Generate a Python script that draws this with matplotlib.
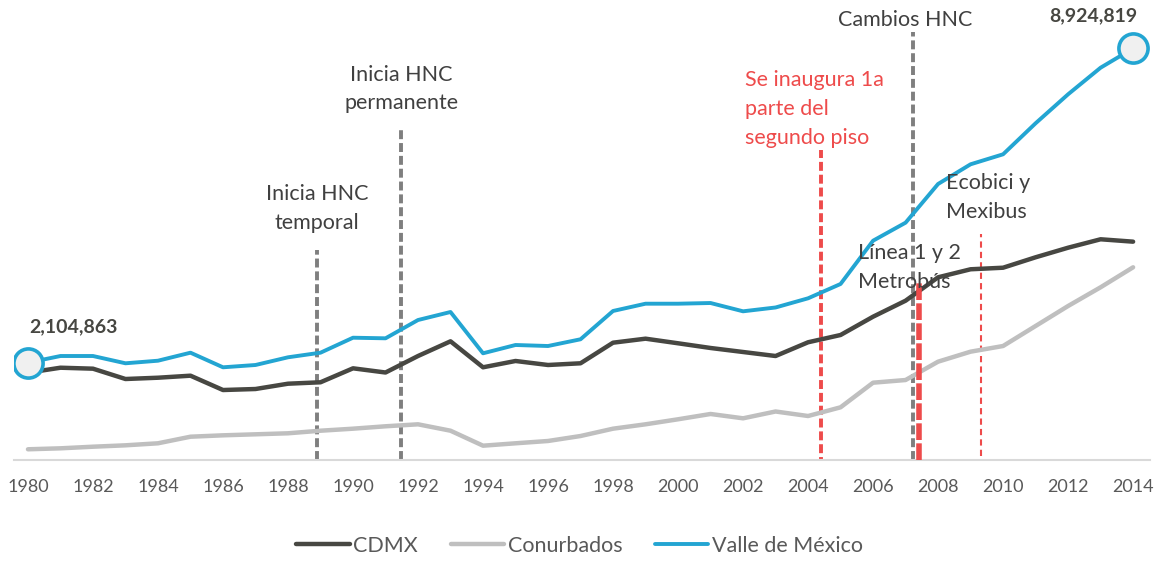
import matplotlib.pyplot as plt

years = list(range(1980, 2015))

cdmx = [1888000, 1996000, 1975000, 1751000, 1779000, 1823000, 1512000, 1534000,
        1649000, 1680000, 1983000, 1892000, 2250000, 2569000, 2005000, 2142000,
        2055000, 2092000, 2539000, 2626000, 2526000, 2424000, 2337000, 2250000,
        2548000, 2706000, 3103000, 3450000, 3958000, 4132000, 4166000, 4392000,
        4600000, 4783000, 4731000]

conurbados = [226000, 247000, 282000, 312000, 356000, 499000, 529000, 551000,
              573000, 629000, 673000, 725000, 768000, 629000, 304000, 356000,
              406000, 514000, 673000, 768000, 877000, 992000, 898000, 1046000,
              948000, 1137000, 1671000, 1729000, 2127000, 2344000, 2467000, 2901000,
              3335000, 3741000, 4175000]

valle = [2104863, 2250000, 2250000, 2092000, 2148000, 2322000, 2005000, 2055000,
         2222000, 2322000, 2647000, 2634000, 3031000, 3205000, 2309000, 2489000,
         2467000, 2613000, 3227000, 3385000, 3385000, 3400000, 3220000, 3303000,
         3502000, 3813000, 4752000, 5143000, 5983000, 6410000, 6627000, 7300000,
         7929000, 8506000, 8924819]

gray = "#7F7F7F"
red = "#EE4B4B"
plt.rcParams["font.family"] = ["Lato", "DejaVu Sans"]

fig = plt.figure(figsize=(11.59, 5.61), dpi=100)
ax = fig.add_axes([14 / 1159, 1 - 459.7 / 561, 1136 / 1159, 459.7 / 561])
ax.set_xlim(1979.57, 2014.52)
ymax = 9.975e6
ax.set_ylim(0, ymax)


def ypix(p):
    # pixel row (from top of figure) to data value
    return (459.7 - p) / 459.7 * ymax


# vertical event lines
dash = (0, (2.3, 1.0))
ax.vlines(1988.9, 0, ypix(250), color=gray, lw=2.8, linestyles=dash, zorder=1)
ax.vlines(1991.48, 0, ypix(127), color=gray, lw=2.8, linestyles=dash, zorder=1)
ax.vlines(2004.4, ypix(466), ypix(150), color=red, lw=2.8, linestyles=dash, zorder=1)
ax.vlines(2007.23, 0, ypix(32), color=gray, lw=2.8, linestyles=dash, zorder=1)
ax.vlines(2007.42, 0, ypix(283), color=red, lw=4, linestyles=(0, (3, 0.6)), zorder=4)
ax.vlines(2009.32, ypix(456), ypix(234), color=red, lw=1.5, linestyles=(0, (3, 2)), zorder=1)

ax.plot(years, cdmx, color="#474742", lw=3.2, solid_capstyle="round", zorder=3, label="CDMX")
ax.plot(years, conurbados, color="#BFBFBF", lw=3.2, solid_capstyle="round", zorder=3, label="Conurbados")
ax.plot(years, valle, color="#23A5D2", lw=2.8, solid_capstyle="round", zorder=3, label="Valle de México")
ax.plot([years[0], years[-1]], [valle[0], valle[-1]], ls="none", marker="o", ms=21,
        mfc="#F0F0F0", mec="#23A5D2", mew=2.6, zorder=5)

ax.text(years[0] + 0.05, ypix(327), f"{valle[0]:,}", ha="left", va="center",
        fontsize=14, fontweight="bold", color="#474742")
ax.text(years[-1] + 0.12, ypix(16), f"{valle[-1]:,}", ha="right", va="center",
        fontsize=14, fontweight="bold", color="#474742")

tc = "#404040"
fs = 15.5
ls = 1.55
ax.text(1988.9, ypix(208.5), "Inicia HNC\ntemporal", ha="center", va="center",
        fontsize=fs, color=tc, linespacing=ls)
ax.text(1991.48, ypix(89), "Inicia HNC\npermanente", ha="center", va="center",
        fontsize=fs, color=tc, linespacing=ls)
ax.text(2002.06, ypix(109), "Se inaugura 1a\nparte del\nsegundo piso", ha="left", va="center",
        fontsize=fs, color=red, linespacing=ls)
ax.text(2006.98, ypix(20), "Cambios HNC", ha="center", va="center",
        fontsize=fs, color=tc)
ax.text(2005.55, ypix(267.5), "Línea 1 y 2\nMetrobús", ha="left", va="center",
        fontsize=fs, color=tc, linespacing=ls, zorder=6)
ax.text(2008.25, ypix(197.5), "Ecobici y\nMexibus", ha="left", va="center",
        fontsize=fs, color=tc, linespacing=ls)

ax.set_xticks(range(1980, 2015, 2))
ax.tick_params(axis="x", length=0, pad=14, labelsize=13, labelcolor="#595959")
ax.set_yticks([])
for s in ["top", "left", "right"]:
    ax.spines[s].set_visible(False)
ax.spines["bottom"].set_color("#D9D9D9")
ax.spines["bottom"].set_linewidth(1.5)

fig.legend(loc="center", bbox_to_anchor=(0.5, 1 - 546 / 561), ncol=3, frameon=False,
           fontsize=15.5, handlelength=2.5, handletextpad=0.15, columnspacing=1.5,
           labelcolor="#595959")

fig.savefig("out.png", dpi=100)
